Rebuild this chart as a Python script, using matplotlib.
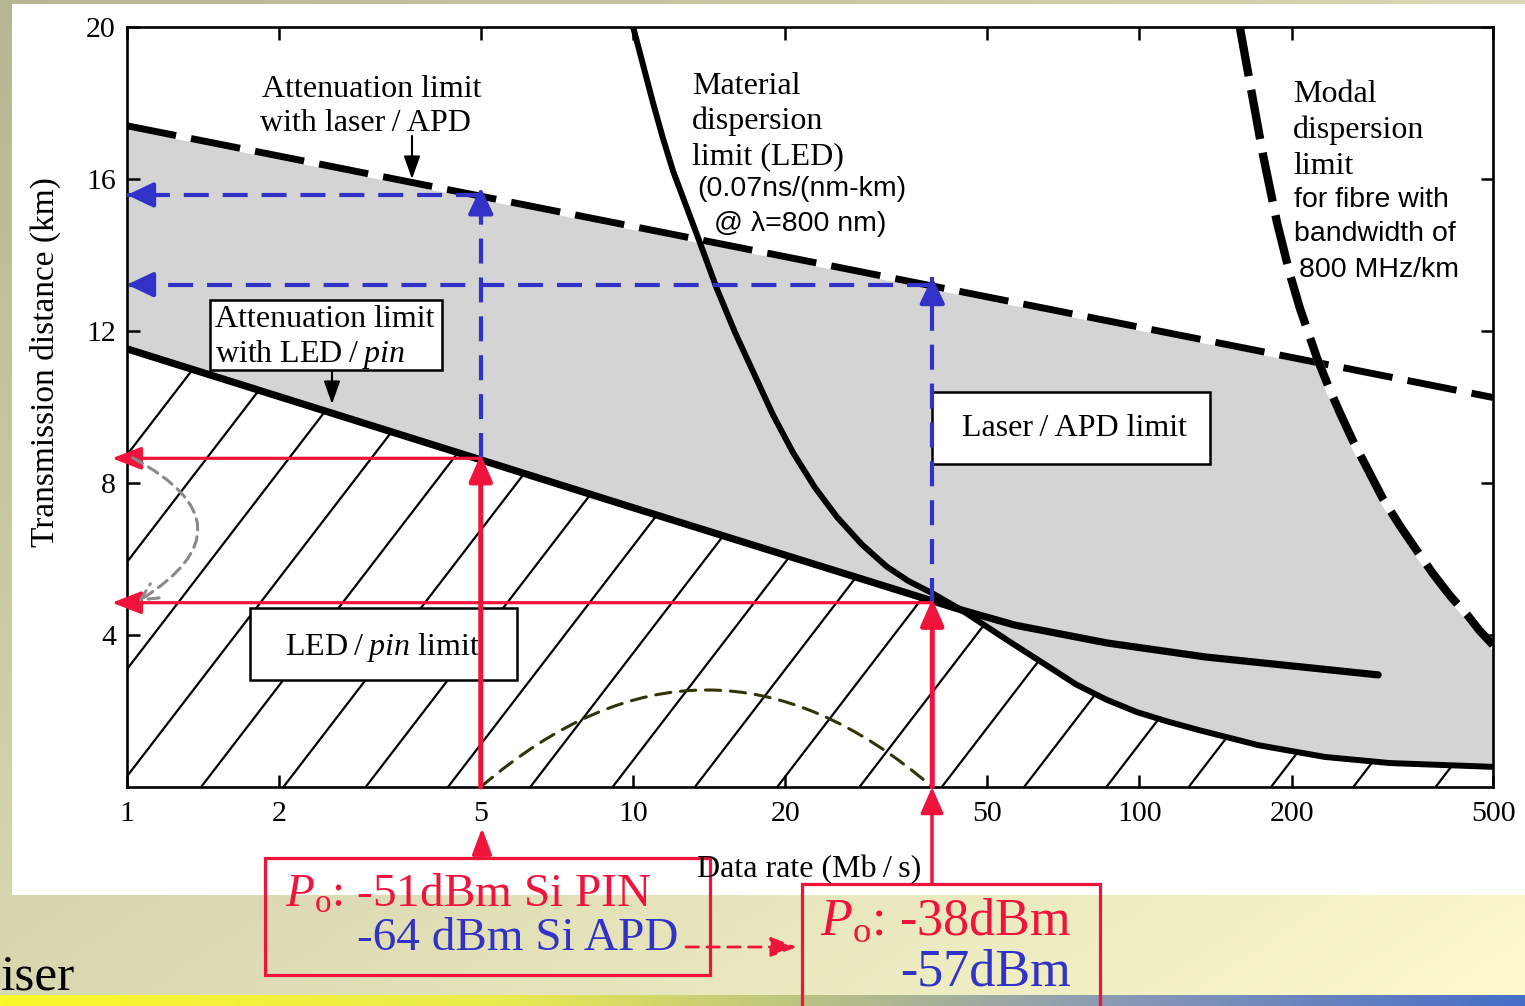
import numpy as np
import matplotlib.pyplot as plt
from matplotlib.collections import LineCollection
from matplotlib.patches import Rectangle

plt.rcParams['font.family'] = 'Liberation Serif'
plt.rcParams['mathtext.fontset'] = 'custom'
plt.rcParams['mathtext.rm'] = 'Liberation Serif'
plt.rcParams['mathtext.it'] = 'Liberation Serif:italic'
plt.rcParams['lines.scale_dashes'] = False

# data rate (Mb/s) -> transmission distance (km)
laser_rate = [1, 500]
laser_dist = [17.4, 10.25]

led_rate = [1, 5, 10, 20, 44.5, 56.8, 86.4, 135.5, 192.4, 296.5]
led_dist = [11.53, 8.61, 7.35, 6.1, 4.66, 4.26, 3.79, 3.42, 3.21, 2.95]

mat_rate = [10.0, 10.95, 11.46, 12.0, 13.4, 14.65, 15.9, 17.3, 18.9, 20.7, 22.87,
            25.3, 28.33, 31.7, 35.0, 39.0, 44.5, 55.8, 65.1, 75.0, 86.1, 99.0,
            114.0, 131.0, 172.0, 233.0, 313.0, 500.0]
mat_dist = [20.0, 18.0, 17.06, 16.2, 14.5, 13.1, 11.96, 10.9, 9.79, 8.8, 7.88,
            7.1, 6.38, 5.8, 5.42, 5.1, 4.66, 3.8, 3.23, 2.7, 2.3, 1.97,
            1.72, 1.5, 1.1, 0.79, 0.63, 0.53]

modal_rate = [158, 165.6, 175.7, 187.2, 198.6, 207.8, 224.5, 237.3, 249.3, 265.4,
              282, 303.4, 327.5, 355.7, 380.7, 412, 444.6, 470, 500]
modal_dist = [20.0, 18.5, 16.62, 14.85, 13.48, 12.59, 11.29, 10.49, 9.84, 9.06,
              8.39, 7.57, 6.87, 6.17, 5.61, 5.02, 4.53, 4.12, 3.74]

# crossing points of the limit curves
led_mat_cross = 44.5
laser_modal_cross = (220.0, 11.2)

# operating points: LED/pin and laser/APD at 5 and 39 Mb/s
pin_rate, apd_rate = 5, 39
pin_dist = [8.65, 4.85]
apd_dist = [15.58, 13.22]

x_ticks = [1, 2, 5, 10, 20, 50, 100, 200, 500]
y_ticks = [4, 8, 12, 16, 20]

RED = '#f0143c'
BLUE = '#3232c8'
GREY = '#d4d4d4'
SERIF = 23
SANS = 20.5
TS = '\u2009/\u2009'

W, H = 1525, 1006
fig = plt.figure(figsize=(W / 100, H / 100), dpi=100)


def fp(x, y):
    # pixel position (from top-left) -> figure fraction
    return x / W, 1 - y / H


# slide background
bg = fig.add_axes([0, 0, 1, 1])
gx, gy = np.meshgrid(np.linspace(0, 1, 300), np.linspace(0, 1, 200))
t = (0.5 * gx + 0.5 * gy)[..., None]
c0 = np.array([182, 182, 148]) / 255
c1 = np.array([252, 250, 205]) / 255
bg.imshow(c0 + (c1 - c0) * t, extent=[0, W, H, 0], aspect='auto')
sx = np.linspace(0, W, 400)
stops = [0, 500, 1100, W]
strip = np.stack([np.interp(sx, stops, [250, 235, 140, 70]),
                  np.interp(sx, stops, [248, 235, 156, 110]),
                  np.interp(sx, stops, [40, 80, 180, 200])], axis=-1) / 255
bg.imshow(strip[None, :, :], extent=[0, W, H, 995], aspect='auto')
bg.add_patch(Rectangle((12, 4), W - 12, 891, fc='white', ec='none'))
bg.text(1, 990, 'iser', ha='left', va='baseline', fontsize=37)
bg.set_xlim(0, W)
bg.set_ylim(H, 0)
bg.axis('off')

ax = fig.add_axes([127 / W, 1 - 787 / H, 1366 / W, 760 / H])
ax.set_xscale('log')
ax.set_xlim(1, 500)
ax.set_ylim(0, 20)
ax.set_autoscale_on(False)
ax.patch.set_facecolor('white')

# lower envelope: LED/pin attenuation up to the crossing, then material dispersion
low_r = [r for r in led_rate if r <= led_mat_cross] + [r for r in mat_rate if r > led_mat_cross]
low_d = [d for r, d in zip(led_rate, led_dist) if r <= led_mat_cross] + \
        [d for r, d in zip(mat_rate, mat_dist) if r > led_mat_cross]
# upper envelope: laser/APD attenuation, then modal dispersion
up_r = [laser_rate[0], laser_modal_cross[0]] + [r for r in modal_rate if r > laser_modal_cross[0]]
up_d = [laser_dist[0], laser_modal_cross[1]] + \
       [d for r, d in zip(modal_rate, modal_dist) if r > laser_modal_cross[0]]

# grey band between the two receiver limits
ax.fill(up_r + low_r[::-1], up_d + low_d[::-1], color=GREY, lw=0, zorder=1)

# hatched LED/pin region
hatch_patch = ax.fill([low_r[0]] + low_r + [low_r[-1]], [0] + low_d + [0],
                      fc='white', lw=0, zorder=1)[0]
x0s = (448 - 127) / 1366 + 82.3 / 1366 * np.arange(-8, 14)
segs = [[(x0, 0), (x0 + 1 / 2.34, 1)] for x0 in x0s]
lc = LineCollection(segs, colors='black', lw=1.6, transform=ax.transAxes, zorder=2)
ax.add_collection(lc, autolim=False)
lc.set_clip_path(hatch_patch)

# limit curves
ax.plot(laser_rate, laser_dist, color='white', lw=5, zorder=3)
ax.plot(laser_rate, laser_dist, color='black', lw=5, ls=(0, (36, 11)),
        dash_capstyle='butt', zorder=3)
ax.plot(mat_rate, mat_dist, color='black', lw=4.3, zorder=3)
ax.plot(led_rate, led_dist, color='black', lw=5.2, solid_capstyle='round', zorder=3)
ax.plot(modal_rate, modal_dist, color='white', lw=6, zorder=3)
ax.plot(modal_rate, modal_dist, color='black', lw=6, ls=(0, (36, 10)),
        dash_capstyle='butt', zorder=3)

ax.set_xticks(x_ticks, [str(v) for v in x_ticks])
ax.xaxis.set_minor_locator(plt.NullLocator())
ax.set_yticks(y_ticks, [str(v) for v in y_ticks])
ax.tick_params(direction='in', length=9, width=1.8, top=True, right=True,
               labelsize=21.5)
ax.tick_params(axis='x', pad=10)
ax.tick_params(axis='y', pad=8)
for s in ax.spines.values():
    s.set_linewidth(1.9)
    s.set_zorder(4)

ax.set_ylabel('Transmission distance (km)', fontsize=24, va='center')
ax.yaxis.set_label_coords(-0.060, 0.559)


def box(x0, y0, x1, y1, ec='black', fc='white', lw=1.8):
    ax.add_patch(Rectangle(fp(x0, y1), (x1 - x0) / W, (y1 - y0) / H,
                           transform=fig.transFigure, fc=fc, ec=ec, lw=lw,
                           clip_on=False, zorder=5))


def label(x, y, s, size=SERIF, family='Liberation Serif', color='black'):
    ax.text(*fp(x, y), s, transform=fig.transFigure, fontsize=size,
            family=family, color=color, va='baseline', ha='left', zorder=6)


def arrow(tip, tail, color, lw, coords='data', ls='-', hl=0.8, hw=0.35,
          style='-|>', ms=20, conn='arc3'):
    ax.annotate('', xy=tip, xytext=tail, xycoords=coords, textcoords=coords,
                annotation_clip=False, zorder=7,
                arrowprops=dict(arrowstyle=f'{style},head_length={hl},head_width={hw}',
                                color=color, lw=lw, linestyle=ls, shrinkA=0,
                                shrinkB=0, mutation_scale=ms,
                                connectionstyle=conn))


def dashed_arrow(tip, tail, color, lw, back):
    # dashed shaft with a solid head; back is the head segment's start
    ax.plot([tail[0], tip[0]], [tail[1], tip[1]], color=color, lw=lw,
            ls=(0, (18, 10)), dash_capstyle='butt', zorder=7)
    arrow(tip, back, color, lw, hl=0.8, hw=0.38)


# curve labels
label(262, 97, 'Attenuation limit')
label(260, 131, 'with laser' + TS + 'APD')
arrow(fp(412, 179), fp(412, 136), 'black', 1.5, coords='figure fraction', hl=0.7, hw=0.25)

box(210, 300, 442, 370)
label(215, 327, 'Attenuation limit')
label(215, 362, 'with LED' + TS + '$pin$')
arrow(fp(332, 404), fp(332, 371), 'black', 1.5, coords='figure fraction', hl=0.7, hw=0.25)

label(692, 94, 'Material')
label(692, 129, 'dispersion')
label(692, 164, 'limit (LED)')
label(697, 196, '(0.07ns/(nm-km)', SANS, 'Liberation Sans')
label(714, 231, '@ λ=800 nm)', SANS, 'Liberation Sans')

label(1293, 102, 'Modal')
label(1293, 138, 'dispersion')
label(1293, 174, 'limit')
label(1294, 207, 'for fibre with', SANS, 'Liberation Sans')
label(1294, 241, 'bandwidth of', SANS, 'Liberation Sans')
label(1299, 277, '800 MHz/km', SANS, 'Liberation Sans')

box(932, 392, 1210, 464)
label(962, 436, 'Laser' + TS + 'APD limit')
box(250, 608, 517, 680)
label(285, 655, 'LED' + TS + '$pin$ limit')

label(697, 877, 'Data rate (Mb' + TS + 's)')

# received power boxes
box(265, 858, 710, 975, ec=RED, fc='none', lw=2.3)
label(285, 907, '$P_{\\rm o}$: -51dBm Si PIN', 34, color=RED)
label(357, 950, '-64 dBm Si APD', 34, color=BLUE)
box(802, 884, 1100, 1012, ec=RED, fc='none', lw=2.3)
label(820, 935, '$P_{\\rm o}$: -38dBm', 37.5, color=RED)
label(900, 985, '-57dBm', 37.5, color=BLUE)
arrow(fp(482, 828), fp(482, 858), RED, 2.5, coords='figure fraction', hl=0.8, hw=0.3)
arrow(fp(797, 947), fp(686, 947), RED, 2, coords='figure fraction', ls=(0, (9, 6)),
      hl=0.8, hw=0.3)
arrow(fp(932, 787), fp(932, 884), RED, 2.5, coords='figure fraction', hl=0.8, hw=0.35)

# distance read-off at each data rate
left_edge = 0.934
for rate, d_pin, d_apd in [(pin_rate, pin_dist[0], apd_dist[0]),
                           (apd_rate, pin_dist[1], apd_dist[1])]:
    dashed_arrow((1, d_apd), (rate, d_apd), BLUE, 3, (1.08, d_apd))
    dashed_arrow((rate, d_apd + 0.2), (rate, d_pin), BLUE, 3, (rate, d_apd - 0.3))
    arrow((left_edge, d_pin), (rate, d_pin), RED, 2.3, hl=0.9, hw=0.35)
    arrow((rate, d_pin + 0.1), (rate, 0), RED, 3.6, hl=0.8, hw=0.35)

# curved hints
arrow((1.05, 4.88), (1.027, 8.66), '#8a8a8a', 2.2, ls=(0, (8, 5)), style='->',
      hl=0.6, hw=0.3, conn='arc3,rad=-0.86')
ax.annotate('', xy=(apd_rate, 0), xytext=(pin_rate, 0), annotation_clip=False, zorder=6,
            arrowprops=dict(arrowstyle='-', color='#33330a', lw=2.2,
                            linestyle=(0, (11, 7)), shrinkA=0, shrinkB=0,
                            connectionstyle='arc3,rad=-0.43'))

fig.savefig('out.png', dpi=100)
